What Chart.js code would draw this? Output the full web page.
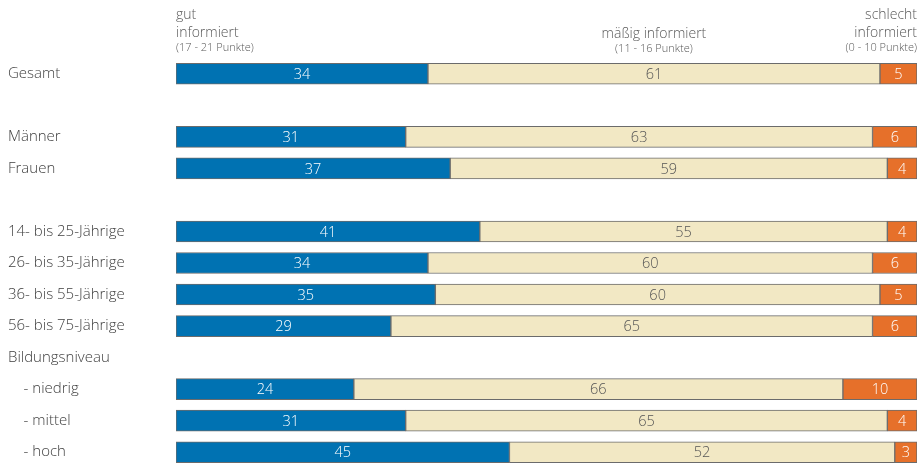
<!DOCTYPE html>
<html>
<head>
<meta charset="utf-8">
<script src="https://cdn.jsdelivr.net/npm/chart.js@4"></script>
<style>
  html, body { margin: 0; padding: 0; background: #fff; overflow: hidden; }
  canvas { display: block; }
</style>
</head>
<body>
<canvas id="chart" width="921" height="480"></canvas>
<script>
'use strict';

/*** DATA ***/

var categories = ['Gesamt', '', 'Männer', 'Frauen', '', '14- bis 25-Jährige', '26- bis 35-Jährige',
  '36- bis 55-Jährige', '56- bis 75-Jährige', 'Bildungsniveau', '    - niedrig', '    - mittel', '    - hoch'];
var seriesNames = ['gut informiert', 'mäßig informiert', 'schlecht informiert'];
var gut = [34, null, 31, 37, null, 41, 34, 35, 29, null, 24, 31, 45];
var maessig = [61, null, 63, 59, null, 55, 60, 60, 65, null, 66, 65, 52];
var schlecht = [5, null, 6, 4, null, 4, 6, 5, 6, null, 10, 4, 3];

var colors = ['rgb(0,114,178)', 'rgb(242,232,196)', 'rgb(230,112,42)'];
var labelColors = ['#ffffff', '#555555', '#ffffff'];
var FONT = '"Open Sans", "Noto Sans", sans-serif';

/*** PLUGINS ***/

// draws the number in the middle of each segment
var segmentLabels = {
  id: 'segmentLabels',
  afterDatasetsDraw: function(chart) {
    var ctx = chart.ctx;
    ctx.save();
    ctx.font = '300 14.5px ' + FONT;
    ctx.textAlign = 'center';
    ctx.textBaseline = 'middle';
    chart.data.datasets.forEach(function(ds, d) {
      var meta = chart.getDatasetMeta(d);
      meta.data.forEach(function(bar, i) {
        if (ds.data[i] === null) return;
        var mid = (bar.x + bar.base) / 2;
        ctx.fillStyle = labelColors[d];
        ctx.fillText(String(ds.data[i]), mid, bar.y + 1);
      });
    });
    ctx.restore();
  }
};

// header texts above the bars
var headers = {
  id: 'headers',
  afterDraw: function(chart) {
    var ctx = chart.ctx;
    var area = chart.chartArea;
    var x = chart.scales.x;
    ctx.save();
    ctx.fillStyle = '#595959';
    ctx.textBaseline = 'middle';
    var big = '300 14px ' + FONT;
    var small = '300 11px ' + FONT;

    ctx.textAlign = 'left';
    ctx.font = big;
    ctx.fillText('gut', area.left, 15);
    ctx.fillText('informiert', area.left, 33);
    ctx.font = small;
    ctx.fillText('(17 - 21 Punkte)', area.left, 48);

    var mid = x.getPixelForValue(gut[0] + maessig[0] / 2);
    ctx.textAlign = 'center';
    ctx.font = big;
    ctx.fillText('mäßig informiert', mid, 34);
    ctx.font = small;
    ctx.fillText('(11 - 16 Punkte)', mid, 49);

    ctx.textAlign = 'right';
    ctx.font = big;
    ctx.fillText('schlecht', area.right, 15);
    ctx.fillText('informiert', area.right, 33);
    ctx.font = small;
    ctx.fillText('(0 - 10 Punkte)', area.right, 48);
    ctx.restore();
  }
};

/*** CHART ***/

var ctx = document.getElementById('chart').getContext('2d');
var chart = new Chart(ctx, {
  type: 'bar',
  data: {
    labels: categories,
    datasets: [gut, maessig, schlecht].map(function(values, i) {
      return {
        label: seriesNames[i],
        data: values,
        backgroundColor: colors[i],
        borderColor: '#6b6b6b',
        borderWidth: 1,
        borderSkipped: false,
        barThickness: 21
      };
    })
  },
  options: {
    indexAxis: 'y',
    responsive: false,
    animation: false,
    devicePixelRatio: 1,
    layout: { padding: { left: 8, right: 4, top: 58, bottom: 9 } },
    plugins: {
      legend: { display: false },
      tooltip: { enabled: false }
    },
    scales: {
      x: {
        stacked: true,
        min: 0,
        max: 100,
        display: false
      },
      y: {
        stacked: true,
        grid: { display: false },
        border: { display: false },
        afterFit: function(scale) { scale.width = 168; },
        ticks: {
          crossAlign: 'far',
          color: '#404040',
          font: { family: FONT, size: 15, weight: 300 },
          autoSkip: false
        }
      }
    }
  },
  plugins: [segmentLabels, headers]
});
</script>
</body>
</html>
